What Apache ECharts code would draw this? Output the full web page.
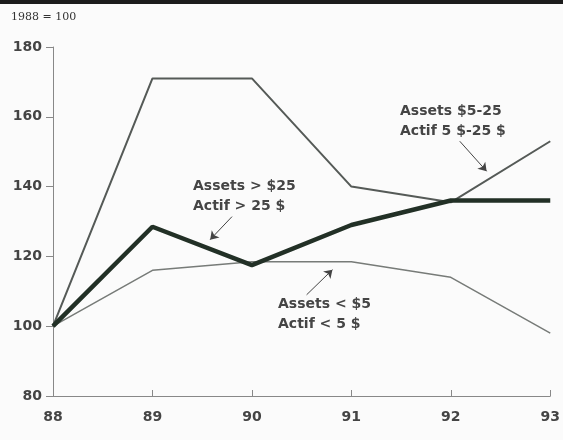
<!doctype html>
<html>
<head>
	<meta charset="utf-8">
	<title>1988 = 100</title>
	<style>
		html, body { margin: 0; padding: 0; background: #fbfbfb; }
		#main { width: 563px; height: 440px; }
	</style>
</head>
<body>
<div id="main"></div>
<script src="https://cdn.jsdelivr.net/npm/echarts@6/dist/echarts.min.js"></script>
<script>
	// données (indice 1988 = 100)
	var years = [88, 89, 90, 91, 92, 93]
	var yearLabels = ['88', '89', '90', '91', '92', '93']
	var mid = [100, 171, 171, 140, 135.5, 153]      // Assets $5-25
	var big = [100, 128.5, 117.5, 129, 136, 136]    // Assets > $25
	var small = [100, 116, 118.5, 118.5, 114, 98]   // Assets < $5
	var yTicks = [80, 100, 120, 140, 160, 180]

	function pairs(vals) {
		var out = []
		for (var i = 0; i < years.length; i++) out.push([years[i], vals[i]])
		return out
	}
	function arrow(a, b) {
		return [{ coord: a }, { coord: b }]
	}

	var labelFont = { fontFamily: 'DejaVu Sans', fontWeight: 'bold', fontSize: 14, color: '#444' }
	var noteStyle = { fontFamily: 'DejaVu Sans', fontWeight: 'bold', fontSize: 14, fill: '#454545', lineHeight: 20 }

	var myChart = echarts.init(document.getElementById('main'))
	var option = {
		backgroundColor: '#fbfbfb',
		animation: false,
		grid: { left: 53, right: 12, top: 47, bottom: 44 },
		xAxis: {
			type: 'value', min: 88, max: 93, interval: 1,
			axisLine: { lineStyle: { color: '#888', width: 1 } },
			axisTick: { inside: true, length: 6, lineStyle: { color: '#888' } },
			splitLine: { show: false },
			axisLabel: Object.assign({ margin: 14, formatter: function (v) {
				var i = years.indexOf(v); return i >= 0 ? yearLabels[i] : ''
			} }, labelFont)
		},
		yAxis: {
			type: 'value', min: yTicks[0], max: yTicks[yTicks.length - 1], interval: 20,
			axisLine: { show: true, lineStyle: { color: '#888', width: 1 } },
			axisTick: { show: true, length: 7, lineStyle: { color: '#888' } },
			splitLine: { show: false },
			axisLabel: Object.assign({ margin: 11 }, labelFont)
		},
		series: [
			{
				name: 'Assets $5-25', type: 'line', data: pairs(mid), symbol: 'none',
				lineStyle: { color: '#555a57', width: 2 }, z: 3,
				markLine: {
					silent: true, symbol: ['none', 'arrow'], symbolSize: 8,
					label: { show: false },
					lineStyle: { color: '#444', width: 1, type: 'solid' },
					data: [
						arrow([92.09, 153.0], [92.36, 144.4]),
						arrow([89.80, 131.4], [89.58, 124.8]),
						arrow([90.55, 109.0], [90.81, 116.2])
					]
				}
			},
			{
				name: 'Assets > $25', type: 'line', data: pairs(big), symbol: 'none',
				lineStyle: { color: '#223026', width: 4.5 }, z: 4
			},
			{
				name: 'Assets < $5', type: 'line', data: pairs(small), symbol: 'none',
				lineStyle: { color: '#777b78', width: 1.5 }, z: 2
			}
		],
		graphic: [
			{ type: 'rect', left: 0, top: 0, shape: { width: 563, height: 4 }, style: { fill: '#1c1c1c' } },
			{ type: 'text', left: 11, top: 12, style: { text: '1988 = 100', font: '11px "DejaVu Serif"', fill: '#333' } },
			{ type: 'text', left: 400, top: 101, style: Object.assign({ text: 'Assets $5-25\nActif 5 $-25 $' }, noteStyle) },
			{ type: 'text', left: 193, top: 176, style: Object.assign({ text: 'Assets > $25\nActif > 25 $' }, noteStyle) },
			{ type: 'text', left: 278, top: 294, style: Object.assign({ text: 'Assets < $5\nActif < 5 $' }, noteStyle) }
		]
	}
	myChart.setOption(option)
</script>
</body>
</html>
